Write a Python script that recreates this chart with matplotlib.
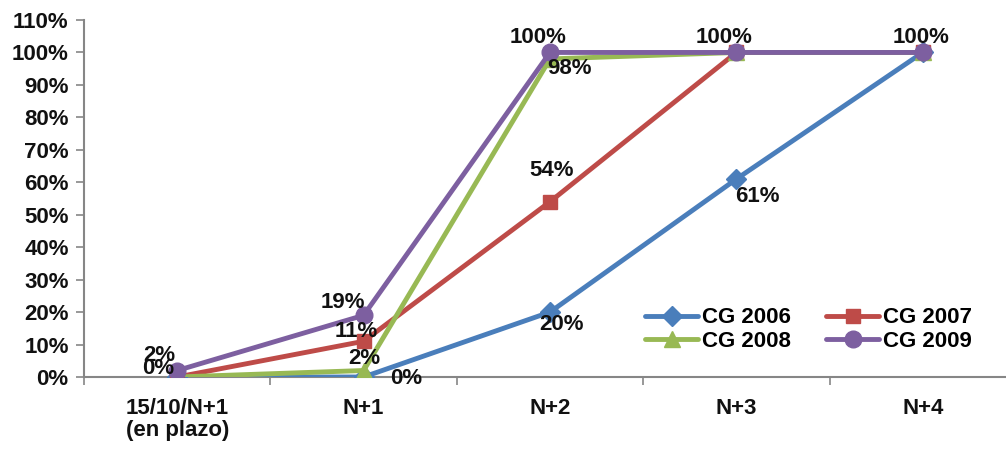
import matplotlib
matplotlib.use('Agg')
import matplotlib.pyplot as plt
from matplotlib.font_manager import fontManager

categories = ['15/10/N+1\n(en plazo)', 'N+1', 'N+2', 'N+3', 'N+4']
series_names = ['CG 2006', 'CG 2007', 'CG 2008', 'CG 2009']
cg2006 = [0, 0, 20, 61, 100]
cg2007 = [0, 11, 54, 100, 100]
cg2008 = [0, 2, 98, 100, 100]
cg2009 = [2, 19, 100, 100, 100]
yticks = list(range(0, 111, 10))

colors = ['#4A7EBB', '#BE4B48', '#98B954', '#7D5FA0']
markers = ['D', 's', '^', 'o']
msizes = [10, 10.5, 11, 12]

# label offsets in pixels (dx, dy up), None = hidden behind another label
offsets = [
    [(-19, 8), (43, -1), (12, -12), (21, -17), None],
    [None, (-7, 10), (2, 31), None, None],
    [None, (1, 12), (20, -10), None, None],
    [(-18, 15), (-21, 13), (-12, 15), (-12, 15), (-2, 15)],
]

names = {f.name for f in fontManager.ttflist}
fam = 'Liberation Sans Narrow' if 'Liberation Sans Narrow' in names else 'Liberation Sans'
plt.rcParams['font.family'] = [fam, 'DejaVu Sans']
fs = 16

fig = plt.figure(figsize=(10.06, 4.5), dpi=100)
ax = fig.add_axes([84 / 1006, 73 / 450, 932 / 1006, 357 / 450])

data = [cg2006, cg2007, cg2008, cg2009]
x = list(range(len(categories)))
lines = []
for vals, name, c, m, ms in zip(data, series_names, colors, markers, msizes):
    ln, = ax.plot(x, vals, color=c, lw=3.5, marker=m, markersize=ms,
                  markeredgecolor=c, label=name, solid_capstyle='round', zorder=3)
    lines.append(ln)

for vals, offs in zip(data, offsets):
    for xi, v, off in zip(x, vals, offs):
        if off is None:
            continue
        ax.annotate(f'{v}%', (xi, v), xytext=(off[0] * 0.72, off[1] * 0.72),
                    textcoords='offset points', ha='center', va='center',
                    fontsize=fs, fontweight='bold', color='#111111', zorder=5)

ax.set_xlim(-0.5, 4.5)
ax.set_ylim(0, 110)
ax.set_yticks(yticks)
ax.set_yticklabels([f'{t}%' for t in yticks], fontsize=fs, fontweight='bold', color='#111111')
ax.set_xticks(x)
ax.set_xticklabels(categories, fontsize=fs, fontweight='bold', color='#111111', linespacing=1.1)
ax.set_xticks([i - 0.5 for i in range(len(categories) + 1)], minor=True)
ax.tick_params(axis='x', which='major', length=0, pad=15)
ax.tick_params(axis='x', which='minor', length=6, color='#868686', width=1.2)
ax.tick_params(axis='y', length=6, color='#868686', width=1.2, pad=5)

for s in ['top', 'right']:
    ax.spines[s].set_visible(False)
for s in ['left', 'bottom']:
    ax.spines[s].set_color('#868686')
    ax.spines[s].set_linewidth(1.5)

handles = [lines[0], lines[2], lines[1], lines[3]]
leg = ax.legend(handles, [h.get_label() for h in handles], ncol=2, frameon=False,
                loc='center left', bbox_to_anchor=(0.602, 0.133),
                prop={'family': [fam], 'weight': 'bold', 'size': fs},
                handlelength=2.4, handletextpad=0.15, columnspacing=1.6,
                labelspacing=0.1, borderaxespad=0, borderpad=0)

fig.savefig('out.png', dpi=100)
